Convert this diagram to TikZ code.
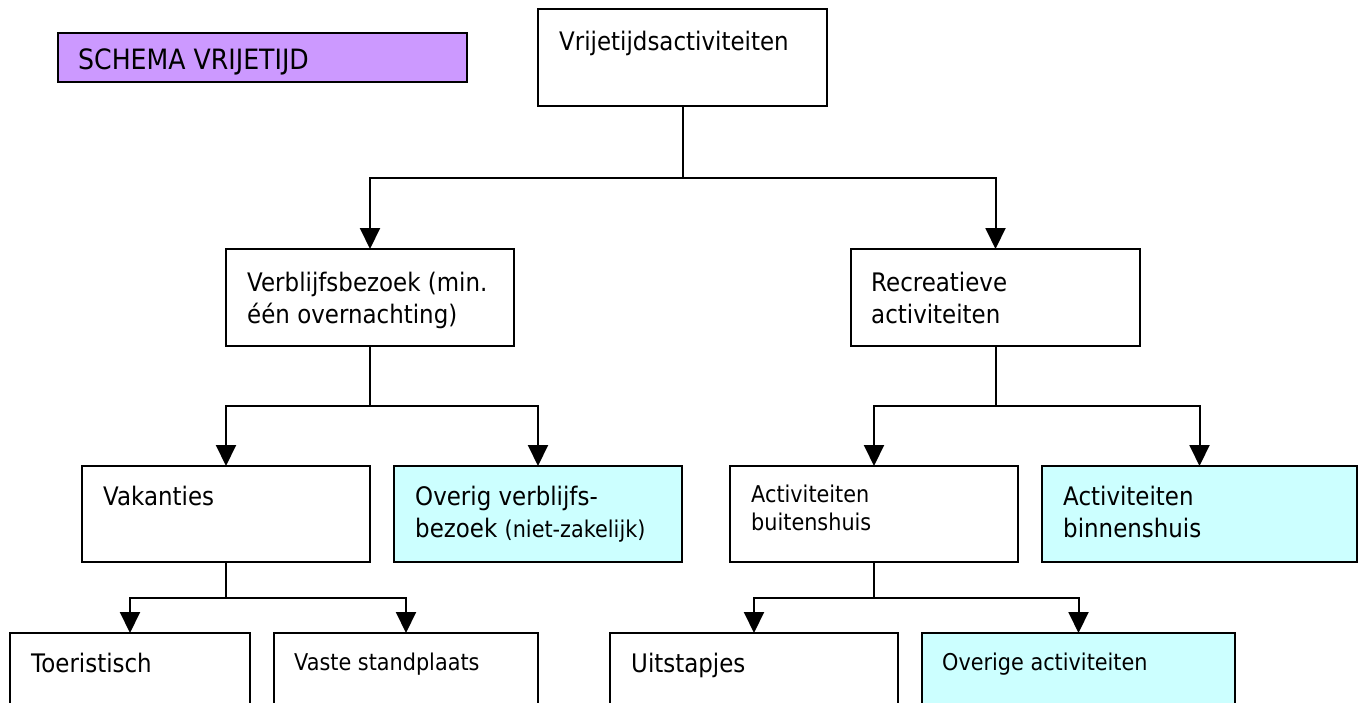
\documentclass[tikz,border=0pt]{standalone}
\usepackage{fontspec}
\setmainfont{DejaVu Sans}[FakeStretch=0.9]
\usetikzlibrary{arrows.meta}
\definecolor{schemapurple}{HTML}{CC99FF}
\definecolor{boxcyan}{HTML}{CCFFFF}
\newcommand\smallfnt{\fontsize{23.1}{28}\selectfont}
\begin{document}
\begin{tikzpicture}[x=1pt,y=-1pt,
  box/.style={draw, line width=2pt, anchor=north west, inner sep=0pt, outer sep=0pt},
  big/.style={anchor=base west, inner sep=0pt, align=left, font=\fontsize{25.5}{32}\selectfont},
  small/.style={anchor=base west, inner sep=0pt, align=left, font=\fontsize{23.1}{28}\selectfont},
  conn/.style={line width=2pt},
  arr/.style={conn, -{Triangle[length=21pt,width=20pt]}}]
\path[use as bounding box] (0,0) rectangle (1359,702);
\clip (0,0) rectangle (1359,702);
% boxes
\node[box, fill=schemapurple, minimum width=409, minimum height=49] (schema) at (58,33) {};
\node[box, minimum width=289, minimum height=97] (top) at (538,9) {};
\node[box, minimum width=288, minimum height=97] (verb) at (226,249) {};
\node[box, minimum width=289, minimum height=97] (rec) at (851,249) {};
\node[box, minimum width=288, minimum height=96] (vak) at (82,466) {};
\node[box, fill=boxcyan, minimum width=288, minimum height=96] (ovb) at (394,466) {};
\node[box, minimum width=288, minimum height=96] (buiten) at (730,466) {};
\node[box, fill=boxcyan, minimum width=315, minimum height=96] (binnen) at (1042,466) {};
\node[box, minimum width=240, minimum height=100] (toer) at (10,633) {};
\node[box, minimum width=264, minimum height=100] (vaste) at (274,633) {};
\node[box, minimum width=288, minimum height=100] (uit) at (610,633) {};
\node[box, fill=boxcyan, minimum width=313, minimum height=100] (overige) at (922,633) {};
% texts (base anchor of a two-line node is its last line)
\node[big, font=\fontsize{28}{32}\selectfont] (tschema) at (78,69) {SCHEMA VRIJETIJD};
\node[big] (ttop) at (559,50) {Vrijetijdsactiviteiten};
\node[big] (tverb) at (247,323) {Verblijfsbezoek (min.\\één overnachting)};
\node[big] (trec) at (871,323) {Recreatieve\\activiteiten};
\node[big] (tvak) at (103,505) {Vakanties};
\node[big] (tovb) at (415,537) {Overig verblijfs-\\bezoek {\smallfnt (niet-zakelijk)}};
\node[small] (tbuiten) at (751,530) {Activiteiten\\buitenshuis};
\node[big] (tbinnen) at (1063,537) {Activiteiten\\binnenshuis};
\node[big] (ttoer) at (31,672) {Toeristisch};
\node[small] (tvaste) at (294,670) {Vaste standplaats};
\node[big] (tuit) at (631,672) {Uitstapjes};
\node[small] (tovr) at (942,670) {Overige activiteiten};
% connectors
\coordinate (j1) at (682.5,178);
\coordinate (j2) at (370,406);
\coordinate (j3) at (995.5,406);
\coordinate (j4) at (226,598);
\coordinate (j5) at (874,598);
\draw[conn] (top.south) -- (j1);
\draw[arr] (j1) -| (verb.north);
\draw[arr] (j1) -| (rec.north);
\draw[conn] (verb.south) -- (j2);
\draw[arr] (j2) -| (vak.north);
\draw[arr] (j2) -| (ovb.north);
\draw[conn] (rec.south) -- (j3);
\draw[arr] (j3) -| (buiten.north);
\draw[arr] (j3) -| (binnen.north);
\draw[conn] (vak.south) -- (j4);
\draw[arr] (j4) -| (toer.north);
\draw[arr] (j4) -| (vaste.north);
\draw[conn] (buiten.south) -- (j5);
\draw[arr] (j5) -| (uit.north);
\draw[arr] (j5) -| (overige.north);
\end{tikzpicture}
\end{document}
